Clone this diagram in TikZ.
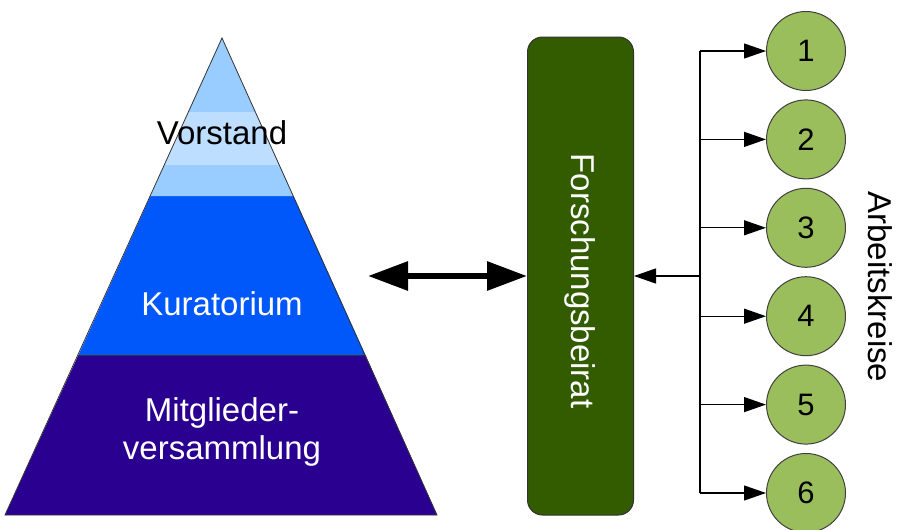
\documentclass[tikz,border=0pt]{standalone}
\usepackage{fontspec}
\setmainfont{Liberation Sans}
\usepackage{tikz}
\usetikzlibrary{arrows.meta}

\definecolor{vorstandblue}{RGB}{153,204,255}
\definecolor{vorstandlight}{RGB}{190,222,255}
\definecolor{kuratblue}{RGB}{0,88,250}
\definecolor{mitgliedblue}{RGB}{42,0,145}
\definecolor{beiratgreen}{RGB}{51,92,0}
\definecolor{kreisgreen}{RGB}{155,190,92}

\begin{document}
\begin{tikzpicture}
          [x=1pt,y=-1pt,
           every node/.style={font=\fontsize{33}{38}\selectfont,align=center},
           beirat/.style={draw=black!80,fill=beiratgreen,rounded corners=15pt,
                          minimum width=106pt,minimum height=478pt,line width=1pt},
           kreis/.style={circle,draw=black!75,fill=kreisgreen,minimum size=79pt,
                         inner sep=0pt,line width=1pt,font=\fontsize{31}{33}\selectfont},
           bus/.style={line width=1.2pt,-{Triangle[length=22pt,width=15pt]}},
           link/.style={line width=6pt,{Triangle[length=40pt,width=28pt]}-{Triangle[length=40pt,width=28pt]}}]
          \useasboundingbox (0,0) rectangle (903,530);

          % pyramid
          \fill[mitgliedblue] (78.5,355) -- (365.5,355) -- (437,515) -- (5,515) -- cycle;
          \fill[kuratblue] (150.5,196) -- (293.5,196) -- (365.5,355) -- (78.5,355) -- cycle;
          \fill[vorstandblue] (222,38) -- (293.5,196) -- (150.5,196) -- cycle;
          \fill[vorstandlight] (188.5,112) -- (255.5,112) -- (279.5,165) -- (164.5,165) -- cycle;
          \draw[black!80,line width=0.8pt] (78.5,355) -- (365.5,355);
          \draw[black!80,line width=0.8pt] (222,38) -- (437,515) -- (5,515) -- cycle;

          \node (vorstand) at (222,133) {Vorstand};
          \node[text=white] (kuratorium) at (222,304) {Kuratorium};
          \node[text=white] (mitglieder) at (222,432) {Mitglieder-\\versammlung};

          \node[beirat] (beirat) at (580.5,276) {};
          \node[text=white,rotate=-90] (beirattext) at (580,281) {Forschungsbeirat};

          \foreach \i in {1,...,6}
            \node[kreis] (k\i) at (806,{51+88.4*(\i-1)}) {\i};

          \node[rotate=-90] (kreise) at (880,287) {Arbeitskreise};

          \coordinate (pyr) at (368,276);
          \coordinate (bus) at (700,276);

          \draw[link] (pyr) -- (beirat.west);
          \draw[line width=1.2pt] (bus |- k1) -- (bus |- k6);
          \draw[bus] (bus) -- (beirat.east);
          \foreach \i in {1,...,6}
            \draw[bus] (bus |- k\i) -- (k\i);

        \end{tikzpicture}
\end{document}
